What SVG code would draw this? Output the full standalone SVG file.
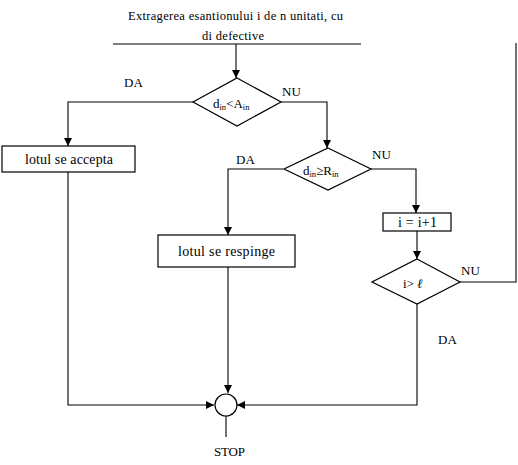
<svg xmlns="http://www.w3.org/2000/svg" width="518" height="465" viewBox="0 0 518 465">
<style>
text{font-family:'Liberation Serif','Times New Roman',serif;fill:#000}
.t{font-size:12.5px}
.b{font-size:14px}
.l{font-size:13px}
.s{font-size:8.5px}
.shape{fill:#fff;stroke:#000;stroke-width:1.2}
.c{fill:none;stroke:#000;stroke-width:1.1}
</style>
<defs>
<marker id="ah" viewBox="0 0 8 8" refX="8" refY="4" markerWidth="8" markerHeight="8" markerUnits="userSpaceOnUse" orient="auto">
<path d="M0,0 L8,4 L0,8 Z" fill="#000"/>
</marker>
</defs>
<g id="connectors">
<path class="c" d="M113,44 H361"/>
<path class="c" d="M236,44 V78" marker-end="url(#ah)"/>
<path class="c" d="M193,102 H68 V146" marker-end="url(#ah)"/>
<path class="c" d="M281,102 H327 V148" marker-end="url(#ah)"/>
<path class="c" d="M283,169 H228 V235" marker-end="url(#ah)"/>
<path class="c" d="M371,169 H416 V213" marker-end="url(#ah)"/>
<path class="c" d="M417,231 V259" marker-end="url(#ah)"/>
<path class="c" d="M460,282 H516 V43"/>
<path class="c" d="M68,172 V405 H214" marker-end="url(#ah)"/>
<path class="c" d="M228,267 V393" marker-end="url(#ah)"/>
<path class="c" d="M417,304 V405 H237" marker-end="url(#ah)"/>
<path class="c" d="M226,416 V437"/>
</g>
<g id="title">
<text class="t" x="128" y="20" textLength="215">Extragerea esantionului i de n unitati, cu</text>
<text class="t" x="202" y="40" textLength="62">di defective</text>
</g>
<g id="decision1">
<path class="shape" d="M237,78 L281,102 L237,126 L193,102 Z"/>
<text class="l" x="213" y="108">d<tspan class="s" dy="2">in</tspan><tspan dy="-2">&lt;A</tspan><tspan class="s" dy="2">in</tspan></text>
</g>
<g id="decision2">
<path class="shape" d="M328,148 L371,169 L328,190 L284,169 Z"/>
<text class="l" x="303" y="175">d<tspan class="s" dy="2">in</tspan><tspan dy="-2">≥R</tspan><tspan class="s" dy="2">in</tspan></text>
</g>
<g id="accept">
<rect class="shape" x="2" y="146" width="133" height="26"/>
<text class="b" x="25" y="164" textLength="88">lotul se accepta</text>
</g>
<g id="reject">
<rect class="shape" x="158" y="235" width="137" height="32"/>
<text class="b" x="178" y="256" textLength="97">lotul se respinge</text>
</g>
<g id="increment">
<rect class="shape" x="383" y="213" width="68" height="18"/>
<text class="b" x="398" y="227" textLength="39">i = i+1</text>
</g>
<g id="decision3">
<path class="shape" d="M417,259 L460,282 L417,304 L372,282 Z"/>
<text class="l" x="403" y="288">i&gt; <tspan font-style="italic">ℓ</tspan></text>
</g>
<g id="stop">
<circle class="shape" cx="226" cy="405" r="11"/>
<text class="l" x="214" y="456" textLength="31">STOP</text>
</g>
<g id="labels">
<text class="l" x="124" y="87">DA</text>
<text class="l" x="282" y="96">NU</text>
<text class="l" x="236" y="164">DA</text>
<text class="l" x="372" y="159">NU</text>
<text class="l" x="461" y="275">NU</text>
<text class="l" x="438" y="344">DA</text>
</g>
</svg>
